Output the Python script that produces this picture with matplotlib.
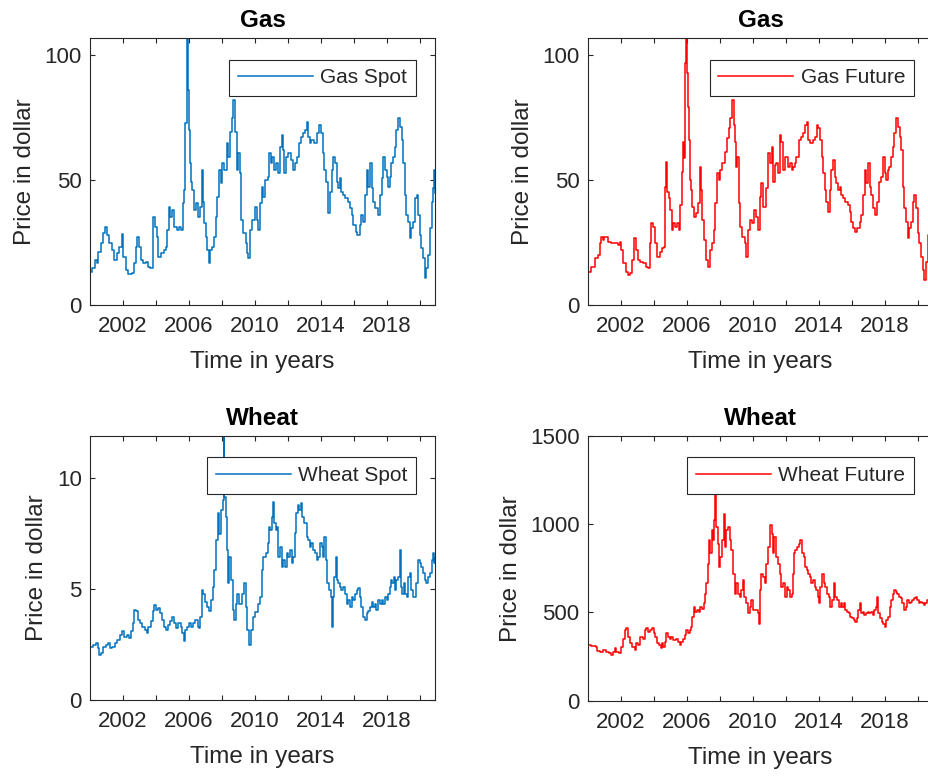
import matplotlib
matplotlib.use("Agg")
import matplotlib.pyplot as plt
import numpy as np

plt.rcParams['font.family'] = ['Liberation Sans', 'DejaVu Sans']

# ---------------- data (decimal year, price) ----------------
gas_spot = [
    (2000.00, 13.3), (2000.14, 14.7), (2000.30, 18.0), (2000.40, 16.7), (2000.51, 21.3),
    (2000.67, 24.7), (2000.81, 28.7), (2000.91, 31.3), (2001.01, 28.0), (2001.15, 24.7),
    (2001.31, 22.0), (2001.47, 18.0), (2001.62, 20.7), (2001.76, 23.3), (2001.92, 28.4),
    (2002.02, 19.3), (2002.16, 14.0), (2002.32, 12.4), (2002.52, 12.7), (2002.69, 16.7),
    (2002.77, 23.3), (2002.87, 27.3), (2002.97, 23.3), (2003.09, 18.0), (2003.23, 16.7),
    (2003.39, 17.3), (2003.53, 15.3), (2003.64, 14.7), (2003.80, 35.3), (2003.94, 31.3),
    (2004.04, 27.3), (2004.14, 19.3), (2004.30, 20.7), (2004.50, 22.0), (2004.61, 23.3),
    (2004.69, 30.0), (2004.79, 39.3), (2004.87, 35.3), (2004.99, 38.0), (2005.09, 31.3),
    (2005.25, 30.0), (2005.39, 31.3), (2005.51, 30.0), (2005.62, 40.7), (2005.72, 46.0),
    (2005.78, 72.7), (2005.86, 96.7), (2005.90, 106.7), (2005.94, 86.0), (2006.00, 70.0),
    (2006.08, 56.7), (2006.12, 49.3), (2006.20, 46.0), (2006.28, 38.0), (2006.41, 40.7),
    (2006.53, 35.3), (2006.67, 39.3), (2006.77, 54.0), (2006.83, 41.3), (2006.91, 32.7),
    (2007.01, 27.3), (2007.11, 22.0), (2007.21, 16.7), (2007.29, 22.0), (2007.41, 23.3),
    (2007.49, 27.3), (2007.62, 35.3), (2007.72, 43.3), (2007.82, 54.0), (2007.92, 48.7),
    (2008.02, 56.7), (2008.14, 54.0), (2008.28, 64.7), (2008.38, 59.3), (2008.48, 69.3),
    (2008.59, 74.7), (2008.69, 82.0), (2008.79, 69.3), (2008.89, 54.0), (2008.99, 60.7),
    (2009.09, 52.7), (2009.15, 34.0), (2009.29, 28.7), (2009.44, 24.7), (2009.54, 20.7),
    (2009.60, 18.7), (2009.70, 30.0), (2009.84, 34.0), (2010.00, 39.3), (2010.10, 34.0),
    (2010.16, 30.0), (2010.30, 40.7), (2010.40, 47.3), (2010.50, 43.3), (2010.60, 50.0),
    (2010.77, 51.3), (2010.85, 60.7), (2010.95, 56.7), (2011.05, 59.3), (2011.17, 54.0),
    (2011.25, 56.7), (2011.37, 52.7), (2011.52, 63.3), (2011.62, 68.0), (2011.72, 62.0),
    (2011.78, 52.7), (2011.88, 59.3), (2012.02, 60.7), (2012.18, 58.0), (2012.32, 54.0),
    (2012.43, 56.7), (2012.53, 59.3), (2012.67, 64.7), (2012.77, 67.3), (2012.93, 68.7),
    (2013.03, 70.0), (2013.13, 73.3), (2013.23, 67.3), (2013.33, 64.7), (2013.43, 66.0),
    (2013.60, 64.7), (2013.74, 68.7), (2013.88, 72.0), (2013.98, 68.7), (2014.10, 60.7),
    (2014.20, 54.0), (2014.30, 49.3), (2014.44, 36.7), (2014.55, 45.3), (2014.65, 54.0),
    (2014.75, 59.3), (2014.85, 56.7), (2014.95, 49.3), (2015.05, 46.7), (2015.15, 50.7),
    (2015.25, 45.3), (2015.35, 44.0), (2015.49, 42.7), (2015.66, 41.3), (2015.76, 38.7),
    (2015.86, 36.0), (2015.96, 32.0), (2016.10, 29.3), (2016.22, 28.0), (2016.36, 32.0),
    (2016.46, 36.0), (2016.57, 33.3), (2016.67, 44.0), (2016.77, 54.0), (2016.87, 47.3),
    (2016.97, 56.7), (2017.07, 46.7), (2017.17, 41.3), (2017.31, 38.7), (2017.47, 36.0),
    (2017.57, 44.0), (2017.68, 50.7), (2017.78, 59.3), (2017.88, 54.0), (2017.98, 51.3),
    (2018.08, 47.3), (2018.18, 51.3), (2018.28, 56.7), (2018.38, 59.3), (2018.48, 63.3),
    (2018.58, 70.0), (2018.69, 74.7), (2018.79, 71.3), (2018.89, 66.0), (2018.99, 56.7),
    (2019.09, 44.0), (2019.19, 36.0), (2019.29, 33.3), (2019.39, 26.7), (2019.49, 30.7),
    (2019.59, 33.3), (2019.70, 42.7), (2019.80, 44.0), (2019.90, 36.0), (2020.00, 28.0),
    (2020.10, 22.7), (2020.20, 18.7), (2020.30, 10.7), (2020.40, 14.7), (2020.51, 20.0),
    (2020.61, 30.7), (2020.71, 41.3), (2020.81, 46.7), (2020.87, 54.0), (2020.92, 45.0),
]

gas_future = [
    (2000.00, 13.3), (2000.20, 15.3), (2000.40, 18.7), (2000.60, 20.0), (2000.75, 24.7),
    (2000.81, 27.3), (2000.91, 26.0), (2001.00, 27.3), (2001.20, 25.3), (2001.40, 24.7),
    (2001.60, 24.7), (2001.82, 24.0), (2001.92, 25.3), (2002.02, 22.0), (2002.12, 16.7),
    (2002.28, 13.3), (2002.42, 12.0), (2002.57, 12.7), (2002.69, 18.0), (2002.77, 26.7),
    (2002.89, 22.0), (2003.03, 18.0), (2003.17, 17.3), (2003.33, 16.7), (2003.49, 15.3),
    (2003.64, 14.7), (2003.74, 24.7), (2003.84, 32.7), (2003.94, 31.3), (2004.04, 24.7),
    (2004.18, 19.3), (2004.34, 21.3), (2004.50, 22.7), (2004.61, 23.3), (2004.67, 47.3),
    (2004.73, 57.3), (2004.81, 45.3), (2004.91, 42.7), (2004.99, 38.0), (2005.07, 30.0),
    (2005.15, 32.7), (2005.25, 31.3), (2005.39, 32.7), (2005.51, 30.0), (2005.60, 40.0),
    (2005.68, 53.3), (2005.76, 65.3), (2005.82, 58.7), (2005.88, 96.7), (2005.92, 106.7),
    (2005.98, 92.7), (2006.04, 79.3), (2006.10, 66.0), (2006.16, 50.0), (2006.24, 46.0),
    (2006.32, 39.3), (2006.42, 35.3), (2006.57, 36.7), (2006.67, 40.7), (2006.77, 55.3),
    (2006.85, 46.0), (2006.93, 34.0), (2007.05, 26.0), (2007.17, 18.0), (2007.27, 15.3),
    (2007.37, 22.0), (2007.51, 24.7), (2007.64, 30.0), (2007.72, 40.7), (2007.82, 52.7),
    (2007.92, 50.0), (2008.02, 54.0), (2008.14, 56.7), (2008.28, 61.3), (2008.42, 66.7),
    (2008.53, 70.7), (2008.63, 74.7), (2008.73, 82.0), (2008.83, 72.0), (2008.93, 65.3),
    (2008.99, 55.3), (2009.05, 59.3), (2009.13, 40.7), (2009.23, 31.3), (2009.35, 27.3),
    (2009.49, 24.7), (2009.60, 19.3), (2009.70, 30.0), (2009.84, 34.0), (2009.96, 32.7),
    (2010.04, 38.0), (2010.16, 35.3), (2010.28, 30.0), (2010.42, 43.3), (2010.52, 48.7),
    (2010.62, 39.3), (2010.79, 46.7), (2010.93, 60.7), (2011.03, 56.7), (2011.13, 63.3),
    (2011.23, 49.3), (2011.33, 56.0), (2011.43, 56.7), (2011.53, 52.7), (2011.63, 68.0),
    (2011.73, 65.3), (2011.83, 54.0), (2011.94, 59.3), (2012.04, 59.3), (2012.14, 55.3),
    (2012.24, 56.7), (2012.34, 54.0), (2012.44, 55.3), (2012.54, 56.7), (2012.64, 59.3),
    (2012.79, 66.0), (2012.89, 67.3), (2013.01, 68.7), (2013.15, 72.0), (2013.25, 73.3),
    (2013.35, 66.0), (2013.45, 64.7), (2013.55, 64.7), (2013.65, 66.0), (2013.75, 67.3),
    (2013.86, 72.0), (2013.96, 70.7), (2014.06, 66.0), (2014.16, 59.3), (2014.26, 52.7),
    (2014.36, 46.0), (2014.46, 41.3), (2014.56, 37.3), (2014.66, 46.0), (2014.76, 54.0),
    (2014.86, 58.0), (2014.96, 51.3), (2015.06, 48.7), (2015.16, 46.0), (2015.26, 47.3),
    (2015.36, 44.0), (2015.46, 42.7), (2015.60, 41.3), (2015.76, 40.0), (2015.86, 37.3),
    (2015.96, 33.3), (2016.07, 30.7), (2016.21, 29.3), (2016.33, 30.7), (2016.47, 33.3),
    (2016.57, 36.0), (2016.67, 44.0), (2016.77, 54.0), (2016.87, 48.7), (2016.97, 56.7),
    (2017.07, 47.3), (2017.17, 44.0), (2017.27, 38.7), (2017.41, 36.0), (2017.53, 41.3),
    (2017.67, 49.3), (2017.77, 51.3), (2017.87, 59.3), (2017.98, 52.7), (2018.08, 50.0),
    (2018.18, 54.0), (2018.28, 55.3), (2018.38, 59.3), (2018.48, 63.3), (2018.58, 68.7),
    (2018.68, 74.7), (2018.78, 71.3), (2018.89, 67.3), (2018.99, 62.0), (2019.09, 47.3),
    (2019.19, 38.7), (2019.29, 33.3), (2019.39, 26.7), (2019.49, 30.7), (2019.59, 33.3),
    (2019.69, 41.3), (2019.79, 44.0), (2019.89, 38.7), (2019.99, 28.7), (2020.09, 24.7),
    (2020.19, 19.3), (2020.29, 14.0), (2020.39, 10.0), (2020.49, 17.3), (2020.59, 28.0),
    (2020.70, 38.0), (2020.80, 45.0), (2020.92, 50.0),
]

wheat_spot = [
    (2000.00, 2.41), (2000.20, 2.49), (2000.36, 2.57), (2000.46, 2.35), (2000.55, 2.05),
    (2000.67, 2.12), (2000.81, 2.41), (2000.95, 2.49), (2001.11, 2.57), (2001.23, 2.35),
    (2001.35, 2.41), (2001.52, 2.57), (2001.66, 2.72), (2001.82, 2.95), (2001.96, 3.10),
    (2002.08, 2.87), (2002.22, 2.95), (2002.36, 2.80), (2002.48, 3.10), (2002.59, 3.47),
    (2002.69, 4.07), (2002.79, 4.00), (2002.89, 3.62), (2003.03, 3.47), (2003.17, 3.32),
    (2003.33, 3.17), (2003.43, 3.02), (2003.54, 3.32), (2003.68, 3.55), (2003.80, 4.00),
    (2003.90, 4.30), (2004.00, 4.07), (2004.10, 4.15), (2004.24, 3.92), (2004.34, 3.62),
    (2004.48, 3.32), (2004.61, 3.17), (2004.75, 3.40), (2004.85, 3.55), (2004.99, 3.77),
    (2005.09, 3.47), (2005.21, 3.25), (2005.35, 3.47), (2005.49, 3.32), (2005.60, 3.02),
    (2005.68, 2.65), (2005.76, 3.17), (2005.86, 3.32), (2006.00, 3.47), (2006.12, 3.32),
    (2006.26, 3.47), (2006.36, 3.62), (2006.53, 3.32), (2006.63, 3.25), (2006.69, 3.77),
    (2006.77, 4.95), (2006.87, 4.80), (2006.97, 4.42), (2007.09, 4.20), (2007.21, 4.00),
    (2007.33, 4.50), (2007.45, 5.10), (2007.53, 5.86), (2007.64, 7.21), (2007.74, 8.42),
    (2007.84, 7.51), (2007.94, 8.57), (2008.04, 9.02), (2008.10, 11.9), (2008.14, 9.17),
    (2008.22, 8.27), (2008.32, 6.76), (2008.38, 5.26), (2008.44, 6.46), (2008.54, 5.41),
    (2008.65, 4.05), (2008.73, 3.60), (2008.83, 4.35), (2008.93, 4.80), (2009.03, 4.35),
    (2009.13, 4.35), (2009.23, 4.80), (2009.33, 5.26), (2009.43, 4.20), (2009.54, 3.17),
    (2009.64, 2.49), (2009.74, 3.17), (2009.86, 3.77), (2010.00, 3.99), (2010.16, 4.35),
    (2010.30, 4.67), (2010.40, 5.86), (2010.50, 6.46), (2010.65, 6.61), (2010.77, 7.07),
    (2010.85, 7.82), (2010.93, 7.67), (2011.01, 8.27), (2011.07, 8.95), (2011.15, 7.97),
    (2011.25, 7.67), (2011.31, 7.82), (2011.41, 6.46), (2011.52, 6.91), (2011.62, 6.01),
    (2011.72, 6.31), (2011.82, 6.01), (2011.92, 6.61), (2012.02, 6.46), (2012.12, 6.76),
    (2012.22, 6.16), (2012.32, 6.46), (2012.43, 7.52), (2012.49, 8.42), (2012.59, 8.80),
    (2012.69, 8.57), (2012.77, 8.87), (2012.87, 8.27), (2012.99, 7.97), (2013.13, 7.37),
    (2013.23, 7.21), (2013.33, 6.91), (2013.43, 7.07), (2013.54, 6.76), (2013.64, 6.61),
    (2013.74, 6.31), (2013.84, 6.46), (2013.94, 7.07), (2014.04, 6.91), (2014.14, 6.46),
    (2014.20, 7.37), (2014.30, 6.31), (2014.40, 5.26), (2014.50, 4.95), (2014.60, 4.65),
    (2014.65, 3.32), (2014.71, 4.65), (2014.81, 5.56), (2014.89, 6.46), (2014.95, 5.41),
    (2015.05, 5.26), (2015.15, 5.11), (2015.25, 4.95), (2015.35, 5.11), (2015.46, 4.80),
    (2015.56, 4.35), (2015.66, 4.50), (2015.76, 4.20), (2015.86, 4.65), (2015.96, 4.50),
    (2016.06, 4.80), (2016.16, 4.95), (2016.26, 5.04), (2016.36, 4.65), (2016.46, 4.20),
    (2016.57, 3.77), (2016.67, 3.62), (2016.77, 3.92), (2016.87, 4.00), (2016.97, 4.20),
    (2017.07, 4.42), (2017.17, 4.20), (2017.27, 4.35), (2017.37, 4.05), (2017.47, 4.50),
    (2017.58, 4.35), (2017.68, 4.50), (2017.78, 4.35), (2017.88, 4.65), (2017.98, 4.50),
    (2018.08, 4.80), (2018.18, 5.11), (2018.28, 5.41), (2018.34, 5.26), (2018.42, 5.56),
    (2018.48, 4.95), (2018.58, 5.41), (2018.69, 5.56), (2018.79, 6.76), (2018.83, 5.11),
    (2018.93, 4.80), (2019.03, 5.26), (2019.13, 4.80), (2019.23, 4.65), (2019.29, 5.56),
    (2019.39, 5.71), (2019.49, 4.95), (2019.59, 4.65), (2019.69, 4.65), (2019.79, 5.26),
    (2019.89, 6.31), (2019.99, 6.16), (2020.10, 6.01), (2020.20, 5.71), (2020.30, 5.41),
    (2020.40, 5.26), (2020.50, 5.56), (2020.60, 5.71), (2020.71, 6.31), (2020.81, 6.61),
    (2020.87, 6.16), (2020.92, 6.40),
]

wheat_future = [
    (2000.00, 315), (2000.20, 309), (2000.46, 305), (2000.55, 282), (2000.71, 277),
    (2000.91, 286), (2001.11, 277), (2001.27, 271), (2001.41, 258), (2001.52, 277),
    (2001.62, 296), (2001.72, 277), (2001.88, 271), (2002.02, 305), (2002.12, 352),
    (2002.22, 400), (2002.32, 409), (2002.42, 362), (2002.52, 324), (2002.67, 305),
    (2002.83, 286), (2002.93, 324), (2003.03, 315), (2003.17, 362), (2003.33, 352),
    (2003.43, 400), (2003.54, 409), (2003.64, 390), (2003.74, 403), (2003.88, 409),
    (2003.98, 381), (2004.08, 362), (2004.18, 324), (2004.30, 315), (2004.40, 296),
    (2004.48, 324), (2004.55, 305), (2004.65, 334), (2004.75, 381), (2004.85, 362),
    (2004.95, 352), (2005.05, 362), (2005.15, 343), (2005.31, 352), (2005.45, 334),
    (2005.55, 315), (2005.66, 334), (2005.76, 352), (2005.86, 371), (2005.96, 400),
    (2006.06, 381), (2006.16, 400), (2006.26, 419), (2006.32, 475), (2006.41, 532),
    (2006.50, 503), (2006.61, 513), (2006.71, 503), (2006.81, 532), (2006.93, 522),
    (2007.01, 551), (2007.09, 607), (2007.17, 664), (2007.25, 777), (2007.33, 909),
    (2007.41, 834), (2007.49, 966), (2007.58, 909), (2007.66, 1022), (2007.72, 1250),
    (2007.78, 985), (2007.86, 890), (2007.94, 758), (2008.02, 815), (2008.12, 909),
    (2008.22, 1060), (2008.30, 871), (2008.38, 966), (2008.48, 985), (2008.59, 909),
    (2008.69, 853), (2008.79, 720), (2008.89, 607), (2008.99, 664), (2009.09, 607),
    (2009.19, 588), (2009.29, 626), (2009.39, 683), (2009.47, 588), (2009.60, 551),
    (2009.70, 494), (2009.80, 532), (2009.90, 570), (2010.00, 513), (2010.12, 513),
    (2010.28, 494), (2010.36, 437), (2010.42, 626), (2010.52, 720), (2010.62, 701),
    (2010.72, 664), (2010.82, 777), (2010.92, 871), (2011.03, 994), (2011.13, 947),
    (2011.23, 834), (2011.29, 928), (2011.37, 928), (2011.43, 815), (2011.53, 777),
    (2011.63, 720), (2011.73, 645), (2011.83, 664), (2011.94, 588), (2012.04, 645),
    (2012.14, 626), (2012.24, 588), (2012.34, 607), (2012.44, 720), (2012.50, 834),
    (2012.58, 853), (2012.68, 871), (2012.78, 890), (2012.88, 909), (2012.99, 834),
    (2013.09, 815), (2013.15, 758), (2013.25, 739), (2013.35, 720), (2013.45, 701),
    (2013.55, 664), (2013.65, 683), (2013.75, 645), (2013.85, 626), (2013.95, 588),
    (2014.01, 551), (2014.09, 645), (2014.19, 720), (2014.29, 664), (2014.39, 645),
    (2014.49, 607), (2014.59, 588), (2014.69, 532), (2014.79, 570), (2014.89, 664),
    (2014.99, 588), (2015.09, 570), (2015.20, 532), (2015.32, 551), (2015.40, 532),
    (2015.50, 551), (2015.60, 513), (2015.70, 503), (2015.80, 494), (2015.90, 475),
    (2016.00, 466), (2016.10, 456), (2016.20, 447), (2016.30, 466), (2016.40, 513),
    (2016.48, 551), (2016.56, 494), (2016.66, 503), (2016.76, 484), (2016.86, 494),
    (2016.96, 503), (2017.06, 494), (2017.16, 503), (2017.26, 484), (2017.36, 513),
    (2017.46, 532), (2017.52, 588), (2017.60, 494), (2017.70, 466), (2017.80, 447),
    (2017.90, 437), (2018.00, 419), (2018.10, 456), (2018.20, 475), (2018.30, 532),
    (2018.40, 570), (2018.50, 607), (2018.56, 626), (2018.66, 617), (2018.76, 607),
    (2018.86, 588), (2018.96, 579), (2019.06, 551), (2019.16, 513), (2019.26, 532),
    (2019.36, 570), (2019.46, 551), (2019.56, 560), (2019.66, 570), (2019.76, 579),
    (2019.86, 588), (2019.96, 570), (2020.06, 551), (2020.16, 560), (2020.26, 551),
    (2020.36, 541), (2020.46, 551), (2020.56, 570), (2020.70, 565), (2020.92, 575),
]

titles = ["Gas", "Gas", "Wheat", "Wheat"]
legend_labels = ["Gas Spot", "Gas Future", "Wheat Spot", "Wheat Future"]
x_ticks = [2002, 2004, 2006, 2008, 2010, 2012, 2014, 2016, 2018, 2020]
x_ticklabels = ["2002", "", "2006", "", "2010", "", "2014", "", "2018", ""]
y_ticks = [[0, 50, 100], [0, 50, 100], [0, 5, 10], [0, 500, 1000, 1500]]

# ---------------- drawing ----------------
BLUE = "#0072BD"
RED = "#FF0000"
TXT = "#262626"

W, H = 929, 776
fig = plt.figure(figsize=(W / 100, H / 100), dpi=100)

def px_axes(left, top, right, bottom):
    return fig.add_axes([left / W, 1 - bottom / H, (right - left) / W, (bottom - top) / H])

axes = [
    px_axes(90, 38.3, 435, 305),
    px_axes(588, 38.3, 933, 305),
    px_axes(90, 436, 435, 700.3),
    px_axes(588, 436, 933, 700.6),
]
series = [gas_spot, gas_future, wheat_spot, wheat_future]
colors = [BLUE, RED, BLUE, RED]
ylims = [None, None, None, (0, 1500)]

for i, ax in enumerate(axes):
    t = np.array([p[0] for p in series[i]])
    v = np.array([p[1] for p in series[i]])
    ax.plot(t, v, color=colors[i], lw=1.1, drawstyle="steps-post", label=legend_labels[i])
    ax.set_xlim(2000.0, 2020.92)
    if ylims[i] is None:
        ax.set_ylim(0, v.max())
    else:
        ax.set_ylim(*ylims[i])
    ax.set_xticks(x_ticks)
    ax.set_xticklabels(x_ticklabels)
    ax.set_yticks(y_ticks[i])
    ax.tick_params(axis="both", direction="in", length=3.5, width=0.8, top=True, right=True,
                   labelsize=16, colors=TXT)
    ax.tick_params(axis="x", pad=8)
    ax.tick_params(axis="y", pad=6)
    for s in ax.spines.values():
        s.set_color(TXT)
        s.set_linewidth(0.8)
    ax.set_title(titles[i], fontsize=17.5, fontweight="bold", color="black", pad=8)
    ax.set_xlabel("Time in years", fontsize=17.5, color=TXT, labelpad=10)
    ax.set_ylabel("Price in dollar", fontsize=17.5, color=TXT, labelpad=6)
    leg = ax.legend(loc="upper right", bbox_to_anchor=(0.945, 0.92), borderaxespad=0,
                    fontsize=15, fancybox=False, framealpha=1, edgecolor=TXT,
                    handlelength=3.6, handletextpad=0.35, borderpad=0.42)
    leg.get_frame().set_linewidth(0.8)
    for txt in leg.get_texts():
        txt.set_color(TXT)

fig.savefig("out.png", dpi=100)
